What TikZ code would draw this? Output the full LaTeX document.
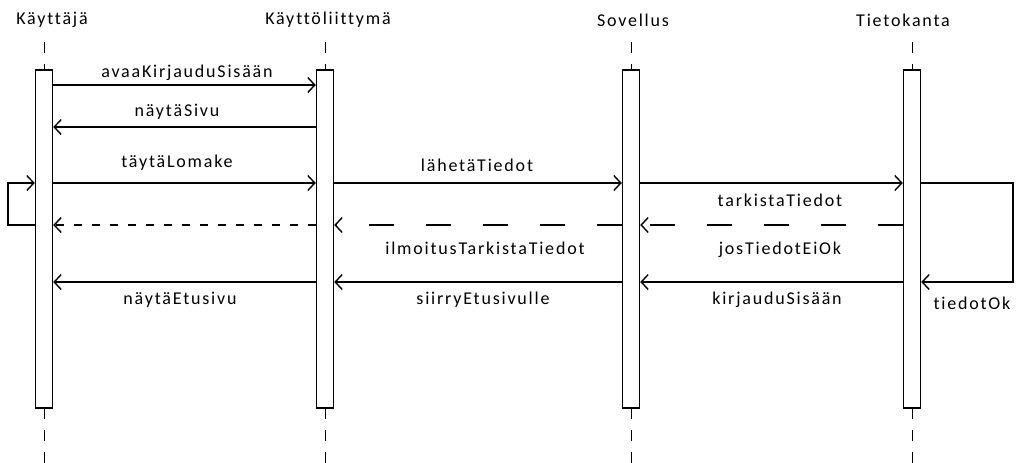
\documentclass[tikz,border=0pt]{standalone}
\usepackage{fontspec}
\setmainfont{Carlito}[LetterSpace=10,Ligatures={NoCommon}]
\usetikzlibrary{arrows.meta,positioning}
\tikzset{x=1pt,y=-1pt,
  every node/.style={font=\fontsize{18}{21}\selectfont, inner sep=0pt},
  box/.style={draw, line width=1.5pt, fill=white, minimum width=17pt, minimum height=338pt},
  life/.style={line width=1pt, dash pattern=on 11pt off 11pt},
  msg/.style={line width=1.4pt, -{Straight Barb[length=7pt,width=15pt,line width=1.4pt]}},
  back/.style={msg, dash pattern=on 8pt off 10pt},
  longback/.style={msg, dash pattern=on 25pt off 32pt}}

\begin{document}
\begin{tikzpicture}
	\useasboundingbox (0,0) rectangle (1018,463);
	% osapuolet
	\node (kn) at (52,20)  {Käyttäjä};
	\node (ln) at (328,20) {Käyttöliittymä};
	\node (sn) at (633,20) {Sovellus};
	\node (tn) at (903,20) {Tietokanta};
	\foreach \x in {44,325,631,912} {
		\draw[life] (\x,42) -- (\x,70);
		\draw[life] (\x,408) -- (\x,463);
	}
	\node[box] (k) at (44,239)  {};
	\node[box] (l) at (325,239) {};
	\node[box] (s) at (631,239) {};
	\node[box] (t) at (912,239) {};
	% rivit
	\coordinate (r1) at (0,85);
	\coordinate (r2) at (0,127);
	\coordinate (r3) at (0,183);
	\coordinate (r4) at (0,225);
	\coordinate (r5) at (0,282);
	\coordinate (lk) at (8,0);
	\coordinate (lt) at (1013,0);
	% viestit
	\draw[msg] (k.east |- r1) -- (l.west |- r1);
	\draw[msg] (l.west |- r2) -- (k.east |- r2);
	\draw[msg] (k.east |- r3) -- (l.west |- r3);
	\draw[msg] (k.west |- r4) -- (lk |- r4) -- (lk |- r3) -- (k.west |- r3);
	\draw[back] (l.west |- r4) -- (k.east |- r4);
	\draw[msg] (l.east |- r3) -- (s.west |- r3);
	\draw[msg] (s.east |- r3) -- (t.west |- r3);
	\draw[longback] (t.west |- r4) -- (s.east |- r4);
	\draw[longback] (s.west |- r4) -- (l.east |- r4);
	\draw[msg] (t.east |- r3) -- (lt |- r3) -- (lt |- r5) -- (t.east |- r5);
	\draw[msg] (t.west |- r5) -- (s.east |- r5);
	\draw[msg] (s.west |- r5) -- (l.east |- r5);
	\draw[msg] (l.west |- r5) -- (k.east |- r5);
	% tekstit
	\node (m1)  at (187,73)  {avaaKirjauduSisään};
	\node (m2)  at (177,112) {näytäSivu};
	\node (m3)  at (177,163) {täytäLomake};
	\node (m4)  at (477,165) {lähetäTiedot};
	\node (m5)  at (780,200) {tarkistaTiedot};
	\node (m6)  at (485,248) {ilmoitusTarkistaTiedot};
	\node (m7)  at (780,250) {josTiedotEiOk};
	\node (m8)  at (180,300) {näytäEtusivu};
	\node (m9)  at (483,300) {siirryEtusivulle};
	\node (m10) at (777,300) {kirjauduSisään};
	\node (m11) at (972,303) {tiedotOk};
\end{tikzpicture}
\end{document}
